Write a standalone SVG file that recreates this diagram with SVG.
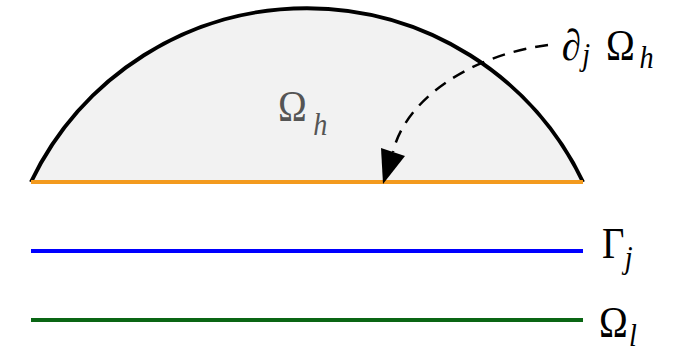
<svg xmlns="http://www.w3.org/2000/svg" width="687" height="354" viewBox="0 0 687 354">
<style>
text{font-family:"Liberation Serif","DejaVu Serif",serif;font-size:44px;fill:#000}
.sub{font-style:italic;font-size:32px}
.ln{stroke-width:4;fill:none}
</style>
<rect width="687" height="354" fill="#fff"/>
<g id="omega-h">
<path d="M31,182 A306,306 0 0 1 583,182 Z" fill="#f2f2f2" stroke="none"/>
<path d="M31,182 A306,306 0 0 1 583,182" fill="none" stroke="#000" stroke-width="4"/>
<text transform="translate(278,121) scale(0.88,1)" style="fill:#555">Ω<tspan class="sub" x="40" y="14" style="fill:#555">h</tspan></text>
</g>
<g id="boundary-dj">
<line class="ln" x1="31" y1="182" x2="583" y2="182" stroke="#f39a1e"/>
</g>
<g id="gamma-j">
<line class="ln" x1="31" y1="251" x2="583" y2="251" stroke="#0000ff"/>
<text transform="translate(602,258) scale(0.88,1)">Γ<tspan class="sub" x="26" y="10">j</tspan></text>
</g>
<g id="omega-l">
<line class="ln" x1="31" y1="320" x2="583" y2="320" stroke="#0a6614"/>
<text transform="translate(599,337) scale(0.88,1)">Ω<tspan class="sub" x="34" y="9">l</tspan></text>
</g>
<g id="label-dj-omega-h">
<text transform="translate(562,60) scale(0.88,1)">∂<tspan class="sub" x="23" y="5">j</tspan><tspan x="50" y="0">Ω</tspan><tspan class="sub" x="88" y="8">h</tspan></text>
</g>
<g id="connectors">
<path d="M548,45 C470,55 405,100 393,152" fill="none" stroke="#000" stroke-width="2.5" stroke-dasharray="13,9"/>
<polygon points="381,148 405,156 383,184" fill="#000"/>
</g>
</svg>
